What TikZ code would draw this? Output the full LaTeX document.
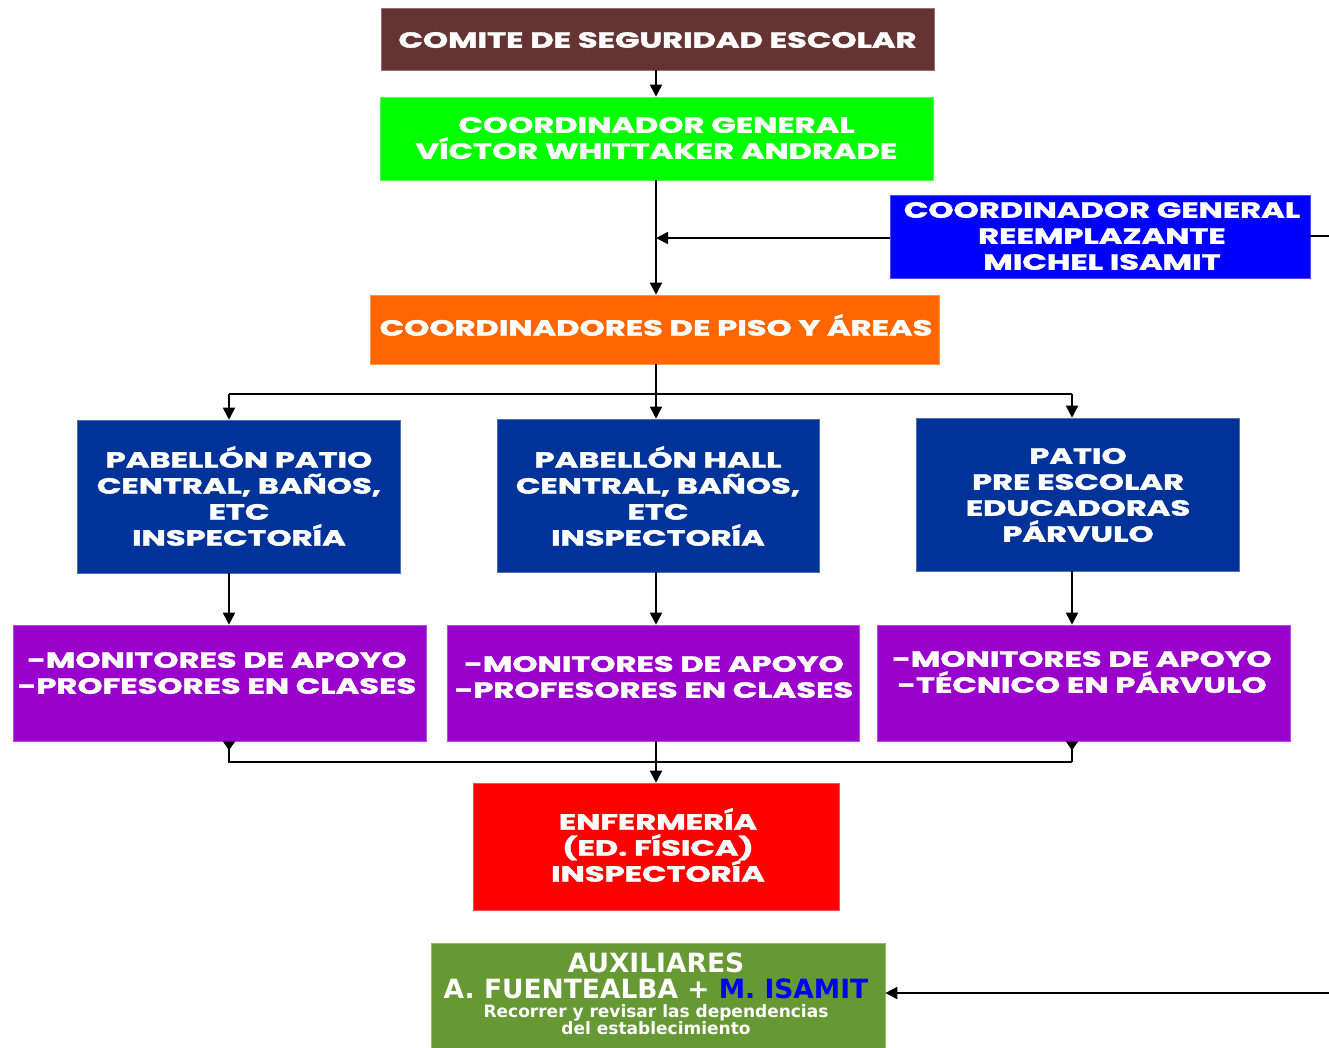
\documentclass[tikz,border=0pt]{standalone}
\usepackage{graphicx}
\usepackage{fontspec}
\setmainfont{Poppins}[BoldFeatures={FakeBold=1.5}]
\newfontfamily\auxfont{DejaVu Sans}
\usetikzlibrary{arrows.meta}
\definecolor{cbrown}{HTML}{663333}
\definecolor{cgreen}{HTML}{00FF00}
\definecolor{cblue}{HTML}{0000FF}
\definecolor{corange}{HTML}{FF6600}
\definecolor{cdblue}{HTML}{003399}
\definecolor{cpurple}{HTML}{9900CC}
\definecolor{cred}{HTML}{FF0000}
\definecolor{colive}{HTML}{669933}
\newcommand\wtxt[1]{\scalebox{1.46}[1]{\parbox{380pt}{\centering\lineskiplimit=-100pt\lineskip=0pt #1}}}
\tikzset{
  box/.style={rectangle, inner sep=0pt, draw=#1!70!white, line width=0.6pt, fill=#1},
  txt/.style={text=white, align=center, font=\bfseries\fontsize{22}{26}\selectfont, inner sep=0pt},
  auxtxt/.style={text=white, align=center, font=\auxfont\bfseries\fontsize{26.5}{26}\selectfont, inner sep=0pt},
  auxsmall/.style={text=white, align=center, font=\auxfont\bfseries\fontsize{17}{17}\selectfont, inner sep=0pt},
  conn/.style={draw=black, line width=1.8pt},
  arr/.style={conn, -{Triangle[length=12pt,width=12pt]}},
  rarr/.style={conn, {Triangle[reversed,length=9pt,width=12pt]}-}
}
\begin{document}
\begin{tikzpicture}[x=1pt,y=-1pt]
\useasboundingbox[fill=white] (0,0) rectangle (1329,1047);
% boxes
\node[box=cbrown, minimum width=553pt, minimum height=62pt] (comite) at (657.5,39) {};
\node[txt] (tcomite) at (657.5,40) {\wtxt{COMITE DE SEGURIDAD ESCOLAR}};
\node[box=cgreen, minimum width=553pt, minimum height=83pt] (coord) at (656.5,138.5) {};
\node[txt] (tcoord) at (656.5,138) {\wtxt{COORDINADOR GENERAL\\VÍCTOR WHITTAKER ANDRADE}};
\node[box=cblue, minimum width=420pt, minimum height=83pt] (reemp) at (1100,236.5) {};
\node[txt] (treemp) at (1102,236) {\wtxt{COORDINADOR GENERAL\\REEMPLAZANTE\\MICHEL ISAMIT}};
\node[box=corange, minimum width=569pt, minimum height=69pt] (piso) at (654.5,329.5) {};
\node[txt] (tpiso) at (656,325) {\wtxt{COORDINADORES DE PISO Y ÁREAS}};
\node[box=cdblue, minimum width=323pt, minimum height=153pt] (pab1) at (238.5,496.5) {};
\node[txt] (tpab1) at (239,496) {\wtxt{PABELLÓN PATIO\\CENTRAL, BAÑOS,\\ETC\\INSPECTORÍA}};
\node[box=cdblue, minimum width=322pt, minimum height=153pt] (pab2) at (658,495.5) {};
\node[txt] (tpab2) at (658,496) {\wtxt{PABELLÓN HALL\\CENTRAL, BAÑOS,\\ETC\\INSPECTORÍA}};
\node[box=cdblue, minimum width=323pt, minimum height=153pt] (patio) at (1077.5,494.5) {};
\node[txt] (tpatio) at (1078,495) {\wtxt{PATIO\\PRE ESCOLAR\\EDUCADORAS\\PÁRVULO}};
\node[box=cpurple, minimum width=413pt, minimum height=116pt] (mon1) at (219.5,683) {};
\node[txt] (tmon1) at (217,673) {\wtxt{-MONITORES DE APOYO\\-PROFESORES EN CLASES}};
\node[box=cpurple, minimum width=412pt, minimum height=116pt] (mon2) at (653,683) {};
\node[txt] (tmon2) at (654,677) {\wtxt{-MONITORES DE APOYO\\-PROFESORES EN CLASES}};
\node[box=cpurple, minimum width=413pt, minimum height=116pt] (mon3) at (1083.5,683) {};
\node[txt] (tmon3) at (1082,672) {\wtxt{-MONITORES DE APOYO\\-TÉCNICO EN PÁRVULO}};
\node[box=cred, minimum width=366pt, minimum height=127pt] (enf) at (656,846.5) {};
\node[txt] (tenf) at (658,845) {\wtxt{ENFERMERÍA\\(ED. FÍSICA)\\INSPECTORÍA}};
\node[box=colive, minimum width=454pt, minimum height=106pt] (aux) at (658,996) {};
\node[auxtxt] (taux1) at (656,963) {AUXILIARES};
\node[auxtxt] (taux2) at (656,989) {A. FUENTEALBA + \textcolor{cblue}{M. ISAMIT}};
\node[auxsmall] (taux3) at (656,1020) {Recorrer y revisar las dependencias\\del establecimiento};
% coordinates
\coordinate (trunkR) at (656,238);
\coordinate (rightA) at (1329,236);
\coordinate (rightB) at (1329,993);
% connectors
\draw[arr] (comite.south -| 656,0) -- (coord.north -| 656,0);
\draw[arr] (coord.south -| 656,0) -- (piso.north -| 656,0);
\draw[arr] (reemp.west |- trunkR) -- (trunkR);
\draw[conn] (reemp.east |- rightA) -- (rightA);
\draw[arr] (piso.south -| 656,0) -- (pab2.north -| 656,0);
\draw[conn] (229,394) -- (1072,394);
\draw[arr] (229,394) -- (pab1.north -| 229,0);
\draw[arr] (1072,394) -- (patio.north -| 1072,0);
\draw[arr] (pab1.south -| 229,0) -- (mon1.north -| 229,0);
\draw[arr] (pab2.south -| 656,0) -- (mon2.north -| 656,0);
\draw[arr] (patio.south -| 1072,0) -- (mon3.north -| 1072,0);
\draw[rarr] (mon1.south -| 229,0) -- (229,762) -- (1072,762);
\draw[rarr] (mon3.south -| 1072,0) -- (1072,762);
\draw[arr] (mon2.south -| 656,0) -- (enf.north -| 656,0);
\draw[arr] (rightB) -- (aux.east |- rightB);
\end{tikzpicture}
\end{document}
